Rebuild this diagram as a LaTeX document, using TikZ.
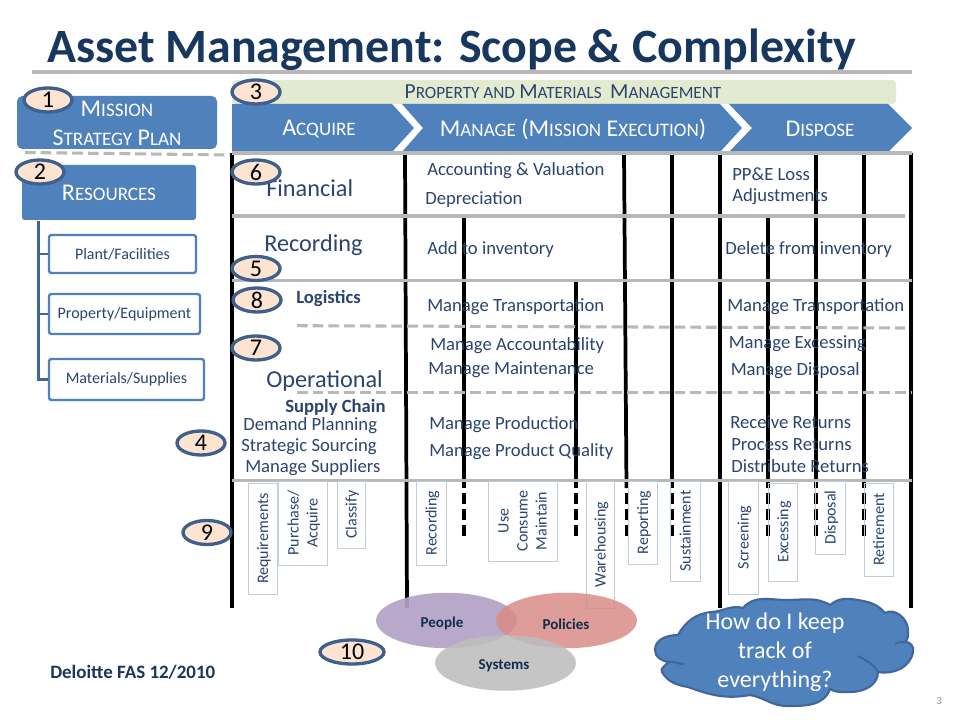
\documentclass[tikz,border=0pt]{standalone}
\usepackage{fontspec}
\setmainfont{Carlito}
\usetikzlibrary{shapes.geometric}
\definecolor{hblue}{HTML}{4F81BD}
\definecolor{bdark}{HTML}{41679A}
\definecolor{ink}{HTML}{2B4570}
\definecolor{titleink}{HTML}{17375E}
\definecolor{rule}{HTML}{B8B8B8}
\definecolor{oliveb}{HTML}{E2EAD0}
\definecolor{peach}{HTML}{FCE4D0}
\definecolor{ovalb}{HTML}{3F5F8C}
\definecolor{boxb}{HTML}{C3CEDB}
\definecolor{vpurple}{HTML}{B3A2C7}
\definecolor{vpink}{HTML}{D98C88}
\definecolor{vgray}{HTML}{BEBEBE}
\newcommand{\fs}[1]{\fontsize{#1}{#1}\selectfont}
\newcommand{\lsc}[2]{{\fs{18}#1}{\fs{14.3}#2}}
\newcommand{\psc}[2]{{\fs{16.1}#1}{\fs{12.9}#2}}
\tikzset{
  px/.style={x=0.75pt,y=-0.75pt},
  vline/.style={line width=2.8pt,black},
  vdash/.style={line width=3pt,black,dash pattern=on 8.25pt off 3.75pt},
  hrule/.style={line width=2.3pt,rule},
  hdash/.style={line width=2.3pt,rule,dash pattern=on 8pt off 3.8pt},
  oval/.style={ellipse,draw=ovalb,line width=2.5pt,fill=peach,inner sep=0pt,minimum width=36pt,minimum height=18pt,font=\fs{18},text=black},
  chev/.style={fill=hblue,draw=none},
  chevtext/.style={text=white,inner sep=0pt},
  bluebox/.style={fill=hblue,draw=none,rounded corners=4pt,text=white,inner sep=0pt,align=center},
  resbox/.style={fill=white,draw=hblue,line width=1.8pt,rounded corners=1.8pt,text=ink,inner sep=0pt,font=\fs{12}},
  vbox/.style={draw=boxb,line width=0.7pt,rotate=90,inner sep=0pt,align=center,text=ink,font=\fs{12},text depth=0pt},
  label/.style={anchor=west,inner sep=0pt,text=ink,font=\fs{14},yshift=-0.75pt},
  biglabel/.style={anchor=west,inner sep=0pt,text=ink,font=\fs{18.2}},
  boldlabel/.style={anchor=west,inner sep=0pt,text=ink,font=\bfseries\fs{14}},
  venn/.style={ellipse,draw=none,inner sep=0pt,minimum width=105.6pt,minimum height=41.6pt},
  venntext/.style={inner sep=0pt,text=titleink!80!black,font=\bfseries\fs{11.3}},
  tree/.style={line width=1.6pt,bdark},
}
\begin{document}
\begin{tikzpicture}[px]
\useasboundingbox (0,0) rectangle (960,720);
\fill[white] (0,0) rectangle (960,720);

% title
\node[anchor=west,inner sep=0pt,text=titleink,font=\bfseries\fs{35.9}] (title) at (47,50) {Asset Management: Scope \& Complexity};
\draw[line width=2.3pt,rule] (32,72) -- (912,72);

% top band
\fill[oliveb,rounded corners=3pt] (232,80) rectangle (896,104);
\node[inner sep=0pt,text=ink,font=\fs{14}] (band) at (563,92) {\psc{P}{ROPERTY AND} \psc{M}{ATERIALS}\ \ \psc{M}{ANAGEMENT}};

% chevrons
\fill[chev] (232,104) -- (392,104) -- (414,128) -- (392,152) -- (232,152) -- cycle;
\fill[chev] (402,104) -- (720,104) -- (742,128) -- (720,152) -- (402,152) -- (423,128) -- cycle;
\fill[chev] (729,104) -- (888,104) -- (912,128) -- (888,152) -- (729,152) -- (752,128) -- cycle;
\node[chevtext] (acq) at (319,129) {\lsc{A}{CQUIRE}};
\node[chevtext,font=\fs{18}] (man) at (573,129) {\lsc{M}{ANAGE} (\lsc{M}{ISSION} \lsc{E}{XECUTION})};
\node[chevtext] (dis) at (820,129) {\lsc{D}{ISPOSE}};

% left blocks
\node[bluebox,minimum width=150pt,minimum height=39.75pt] (mission) at (117,122.5) {};
\node[inner sep=0pt,text=white] (m1) at (117,109) {\lsc{M}{ISSION}};
\node[inner sep=0pt,text=white,font=\fs{18}] (m2) at (117,138) {\lsc{S}{TRATEGY} \lsc{P}{LAN}};
\node[bluebox,rounded corners=2pt,minimum width=130.5pt,minimum height=41.25pt] (res) at (109,192.5) {\lsc{R}{ESOURCES}};
\node[resbox,minimum width=110.25pt,minimum height=28.5pt] (plant) at (122.5,254) {Plant/Facilities};
\node[resbox,minimum width=113.25pt,minimum height=30pt] (prop) at (124.5,314) {Property/Equipment};
\node[resbox,minimum width=116.25pt,minimum height=30.75pt] (mat) at (126.5,379.5) {Materials/Supplies};
\coordinate (trunk) at (38.5,221);
\draw[tree] (trunk) -- (38.5,379.5) -- (mat.west);
\draw[tree] (38.5,254) -- (plant.west);
\draw[tree] (38.5,314) -- (prop.west);
\draw[hdash] (25,152.5) -- (232,155);

% vertical lines
\draw[vline] (232,153) -- (232,608);
\draw[vline] (405,153) -- (407,608);
\draw[vline] (720,153) -- (720,608);
\draw[vline] (911,153) -- (911,608);
\draw[vline] (464,216) -- (464,488);
\draw[vdash] (464,492.5) -- (464,537);
\draw[vline] (576,280) -- (576,488);
\draw[vdash] (576,492.5) -- (576,537);
\draw[vline] (624,153) -- (626.5,488);
\draw[vdash] (626.5,492.5) -- (626.5,537);
\draw[vline] (672,153) -- (672,488);
\draw[vdash] (672,492.5) -- (672,537);
\draw[vline] (768,216) -- (768,488);
\draw[vdash] (768,492.5) -- (768,537);
\draw[vline] (816,153) -- (816,488);
\draw[vdash] (816,492.5) -- (816,537);
\draw[vline] (864,153) -- (864,488);
\draw[vdash] (864,492.5) -- (864,537);

% horizontal rules
\draw[hrule] (232,153) -- (912,153);
\draw[hrule] (232,216) -- (905,216);
\draw[hrule] (232,280.5) -- (912,280.5);
\draw[hdash] (297,325.7) -- (905,328);
\draw[hdash] (297,392.5) -- (912,392.5);
\draw[hrule] (232,480.5) -- (912,480.5);

% vertical boxes
\node[vbox,minimum width=83.25pt,minimum height=21.75pt] (b1) at (262.5,538.5) {Requirements};
\node[vbox,minimum width=63pt,minimum height=36.75pt] (b2) at (302.5,523) {Purchase/\\[2.25pt]Acquire};
\node[vbox,minimum width=50.25pt,minimum height=21pt] (b3) at (351,514.5) {Classify};
\node[vbox,minimum width=63pt,minimum height=22.5pt] (b4) at (431,523) {Recording};
\node[vbox,minimum width=60pt,minimum height=51.75pt] (b5) at (522.5,521) {Use\\[2.25pt]Consume\\[2.25pt]Maintain};
\node[vbox,minimum width=95.25pt,minimum height=21pt] (b6) at (600,544.5) {Warehousing};
\node[vbox,minimum width=62.25pt,minimum height=21.75pt] (b7) at (642.5,522.5) {Reporting};
\node[vbox,minimum width=75pt,minimum height=22.5pt] (b8) at (685,531) {Sustainment};
\node[vbox,minimum width=84.75pt,minimum height=22.5pt] (b9) at (743,537.5) {Screening};
\node[vbox,minimum width=73.5pt,minimum height=22.1pt] (b10) at (782.75,532) {Excessing};
\node[vbox,minimum width=54.75pt,minimum height=22.5pt] (b11) at (830,517.5) {Disposal};
\node[vbox,minimum width=69.75pt,minimum height=21.75pt] (b12) at (878.5,529.5) {Retirement};

% row labels
\node[biglabel] (f) at (266,188) {Financial};
\node[biglabel] (r) at (264,245.5) {Recording};
\node[biglabel] (o) at (266,381) {Operational};
\node[boldlabel] (l) at (296,299) {Logistics};
\node[boldlabel] (s) at (285,407) {Supply Chain};
\node[label] (t1) at (243,425) {Demand Planning};
\node[label] (t2) at (241,446) {Strategic Sourcing};
\node[label] (t3) at (245,467) {Manage Suppliers};
\node[label] (t4) at (427,170) {Accounting \& Valuation};
\node[label] (t5) at (425,199) {Depreciation};
\node[label] (t6) at (427,249) {Add to inventory};
\node[label] (t7) at (427,306) {Manage Transportation};
\node[label] (t8) at (430,345) {Manage Accountability};
\node[label] (t9) at (428,369) {Manage Maintenance};
\node[label] (t10) at (429,424) {Manage Production};
\node[label] (t11) at (429,451) {Manage Product Quality};
\node[label] (t12) at (732,173) {PP\&E Loss};
\node[label] (t13) at (732,196) {Adjustments};
\node[label] (t14) at (725,249) {Delete from inventory};
\node[label] (t15) at (727,306) {Manage Transportation};
\node[label] (t16) at (728.5,343) {Manage Excessing};
\node[label] (t17) at (730.5,370) {Manage Disposal};
\node[label] (t18) at (730,421) {Receive Returns};
\node[label] (t19) at (731,444) {Process Returns};
\node[label] (t20) at (731,465) {Distribute Returns};

% venn
\node[venn,fill=vpurple,fill opacity=0.92] (people) at (446.5,620.5) {};
\node[venn,fill=vpink,fill opacity=0.85] (policies) at (566.5,620.5) {};
\node[venn,fill=vgray,fill opacity=0.88] (systems) at (505.5,663) {};
\node[venntext] (pt) at (442,623.5) {People};
\node[venntext] (pot) at (566,624.5) {Policies};
\node[venntext] (st) at (504,665.5) {Systems};

% footer
\node[anchor=west,inner sep=0pt,text=titleink,font=\bfseries\fs{14.2}] (foot) at (50,672) {Deloitte FAS 12/2010};
\node[inner sep=0pt,text=black!45,font=\fs{8}] (pg) at (939,701) {3};

% cloud
\path[fill=hblue,draw=bdark,line width=1.6pt]
 (678,635) to[out=60,in=185] (712,612) to[out=5,in=165] (743,608)
 to[out=50,in=180] (787,600) to[out=0,in=150] (830,605)
 to[out=40,in=170] (858,600) to[out=-10,in=130] (885,613)
 to[out=30,in=90] (908,630) to[out=-90,in=40] (905,642)
 to[out=10,in=70] (913,652) to[out=-100,in=-10] (878,672)
 to[out=-90,in=0] (850,692) to[out=180,in=-30] (830,689)
 to[out=-110,in=0] (787,706) to[out=180,in=-10] (750,695)
 to[out=-170,in=-20] (688,687)
 to[out=170,in=-60] (662,672) to[out=120,in=-120] (668,662)
 to[out=170,in=-90] (655,650) to[out=90,in=180] (678,635) -- cycle;
\draw[bdark,line width=1.6pt] (858,656) to[out=-30,in=120] (878,672);
\draw[bdark,line width=1.6pt] (905,642) to[out=190,in=40] (895,644);
\draw[bdark,line width=1.6pt] (668,662) to[out=10,in=180] (684,664);
\node[inner sep=0pt,text=white,align=center,font=\fs{18}] (cl) at (775,652) {How do I keep\\[3.75pt]track of\\[3.75pt]everything?};

% numbered ovals
\node[oval] (n1) at (48,100) {1};
\node[oval] (n2) at (40,172) {2};
\node[oval] (n3) at (256,92) {3};
\node[oval] (n6) at (256,172) {6};
\node[oval] (n5) at (256,268.5) {5};
\node[oval] (n8) at (257,300) {8};
\node[oval] (n7) at (256,348) {7};
\node[oval] (n4) at (201,443) {4};
\node[oval] (n9) at (207,532.5) {9};
\node[oval,minimum width=48pt] (n10) at (352,652) {10};
\end{tikzpicture}
\end{document}
